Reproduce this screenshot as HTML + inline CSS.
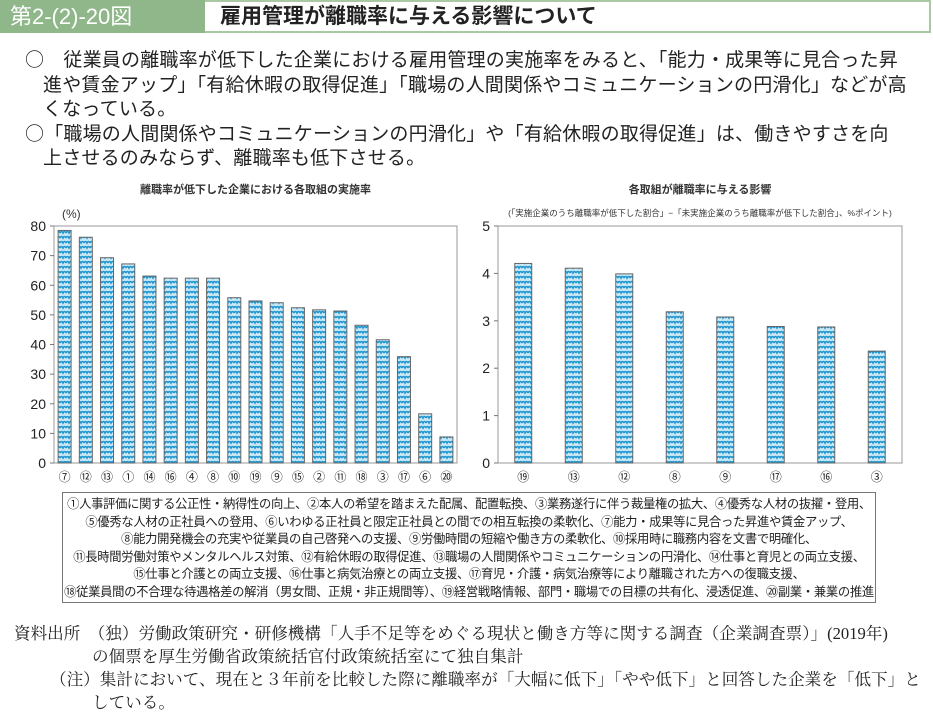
<!DOCTYPE html>
<html><head><meta charset="utf-8">
<style>
body{margin:0;width:933px;height:720px;background:#fff;position:relative;overflow:hidden;font-family:"Liberation Sans","Noto Sans CJK JP",sans-serif;color:#222}
.abs{position:absolute;white-space:nowrap}
.bl{font-family:"Noto Sans CJK JP",sans-serif;font-size:19px;letter-spacing:0.2px;line-height:24px}
.ft{font-family:"Liberation Serif","Noto Serif CJK SC",serif;font-size:16.6px}
</style></head><body>
<div class="abs" style="left:0;top:0;width:205px;height:33px;background:#8fb78a;color:#fff;font-size:22px;line-height:33px;padding-left:10px;box-sizing:border-box">第2-(2)-20図</div>
<div class="abs" style="left:205px;top:0;width:726px;height:33px;border:2px solid #a9c9a3;border-left:none;box-sizing:border-box;font-size:21px;line-height:29px;padding-left:15px;font-weight:bold">雇用管理が離職率に与える影響について</div>

<div>
<div class="abs bl" style="left:25px;top:47px">○　従業員の離職率が低下した企業における雇用管理の実施率をみると、「能力・成果等に見合った昇</div>
<div class="abs bl" style="left:43px;top:72px">進や賃金アップ」「有給休暇の取得促進」「職場の人間関係やコミュニケーションの円滑化」などが高</div>
<div class="abs bl" style="left:43px;top:96px">くなっている。</div>
<div class="abs bl" style="left:25px;top:121px">○「職場の人間関係やコミュニケーションの円滑化」や「有給休暇の取得促進」は、働きやすさを向</div>
<div class="abs bl" style="left:43px;top:145px">上させるのみならず、離職率も低下させる。</div>
</div>

<svg class="abs" style="left:0;top:0" width="933" height="720">
<defs>
<pattern id="pt" width="6" height="5" patternUnits="userSpaceOnUse">
<rect width="6" height="5" fill="#cbe9f6"/>
<path d="M0 3 Q1.5 0 3 3 Q4.5 0 6 3" stroke="#1f95cf" stroke-width="1.6" fill="none"/>
</pattern>
</defs>
<g id="left"></g><g id="right"></g>
</svg>

<div class="abs" style="left:62px;top:492px;width:814px;height:111px;border:1.5px solid #777;box-sizing:border-box;font-size:12.3px;line-height:17.6px;text-align:center;padding-top:3px;letter-spacing:-0.3px">
<div>①人事評価に関する公正性・納得性の向上、②本人の希望を踏まえた配属、配置転換、③業務遂行に伴う裁量権の拡大、④優秀な人材の抜擢・登用、</div>
<div>⑤優秀な人材の正社員への登用、⑥いわゆる正社員と限定正社員との間での相互転換の柔軟化、⑦能力・成果等に見合った昇進や賃金アップ、</div>
<div>⑧能力開発機会の充実や従業員の自己啓発への支援、⑨労働時間の短縮や働き方の柔軟化、⑩採用時に職務内容を文書で明確化、</div>
<div>⑪長時間労働対策やメンタルヘルス対策、⑫有給休暇の取得促進、⑬職場の人間関係やコミュニケーションの円滑化、⑭仕事と育児との両立支援、</div>
<div>⑮仕事と介護との両立支援、⑯仕事と病気治療との両立支援、⑰育児・介護・病気治療等により離職された方への復職支援、</div>
<div>⑱従業員間の不合理な待遇格差の解消（男女間、正規・非正規間等）、⑲経営戦略情報、部門・職場での目標の共有化、浸透促進、⑳副業・兼業の推進</div>
</div>

<div>
<div class="abs ft" style="left:14px;top:620px">資料出所　（独）労働政策研究・研修機構「人手不足等をめぐる現状と働き方等に関する調査（企業調査票）」(2019年)</div>
<div class="abs ft" style="left:92px;top:643px">の個票を厚生労働省政策統括官付政策統括室にて独自集計</div>
<div class="abs ft" style="left:50px;top:666px">（注）集計において、現在と３年前を比較した際に離職率が「大幅に低下」「やや低下」と回答した企業を「低下」と</div>
<div class="abs ft" style="left:92px;top:689px">している。</div>
</div>

<script>
const leftCats=['⑦','⑫','⑬','①','⑭','⑯','④','⑧','⑩','⑲','⑨','⑮','②','⑪','⑱','③','⑰','⑥','⑳'];
const leftVals=[78.5,76.2,69.3,67.2,63.1,62.4,62.4,62.4,55.8,54.7,54.1,52.4,51.7,51.3,46.5,41.6,35.9,16.6,8.8];
const leftTicks=[0,10,20,30,40,50,60,70,80];
const rightCats=['⑲','⑬','⑫','⑧','⑨','⑰','⑯','③'];
const rightVals=[4.21,4.11,3.99,3.19,3.08,2.88,2.87,2.36];
const rightTicks=[0,1,2,3,4,5];
const NS='http://www.w3.org/2000/svg';
function mk(p,t,a){const e=document.createElementNS(NS,t);for(const k in a)e.setAttribute(k,a[k]);p.appendChild(e);return e;}
function chart(g,cats,vals,ticks,o){
  const x0=o.x0,x1=o.x1,yT=226,yB=463,max=ticks[ticks.length-1];
  const y=v=>yB-(v/max)*(yB-yT);
  const step=(x1-x0)/cats.length;
  const xc=i=>x0+step*(i+0.5);
  const t=mk(g,'text',{x:(x0+x1)/2,y:193,'text-anchor':'middle','font-size':'11','font-weight':'bold',fill:'#333'});
  t.textContent=o.title;
  
  
  if(o.sub){const s=mk(g,'text',{x:(x0+x1)/2,y:216,'text-anchor':'middle','font-size':'8.5',fill:'#333'});s.textContent=o.sub;
  
  }
  if(o.unit){const u=mk(g,'text',{x:o.x0+8,y:218,'font-size':'12',fill:'#333'});u.textContent=o.unit;
  
  }
  const fr=mk(g,'rect',{x:x0,y:yT,width:x1-x0,height:yB-yT,fill:'none',stroke:'#999','stroke-width':1});
  
  
  ticks.forEach(v=>{
    mk(g,'line',{x1:x0-4,x2:x0,y1:y(v),y2:y(v),stroke:'#777'});
    const tt=mk(g,'text',{x:x0-8,y:y(v)+5,'text-anchor':'end','font-size':'14',fill:'#222'});tt.textContent=v;
    
    
  });
  cats.forEach((c,i)=>{
    const r=mk(g,'rect',{x:xc(i)-o.bw/2,y:y(vals[i]),width:o.bw,height:yB-y(vals[i]),fill:'url(#pt)',stroke:'#666','stroke-width':1});
    
    
    const l=mk(g,'text',{x:xc(i),y:481,'text-anchor':'middle','font-size':'12',fill:'#222'});l.textContent=c;
    
    
  });
}
chart(document.getElementById('left'),leftCats,leftVals,leftTicks,{x0:54,x1:457,bw:13,title:'離職率が低下した企業における各取組の実施率',unit:'(%)'});
chart(document.getElementById('right'),rightCats,rightVals,rightTicks,{x0:498,x1:902,bw:17,title:'各取組が離職率に与える影響',sub:'(「実施企業のうち離職率が低下した割合」−「未実施企業のうち離職率が低下した割合」、%ポイント)'});
</script>
</body></html>
